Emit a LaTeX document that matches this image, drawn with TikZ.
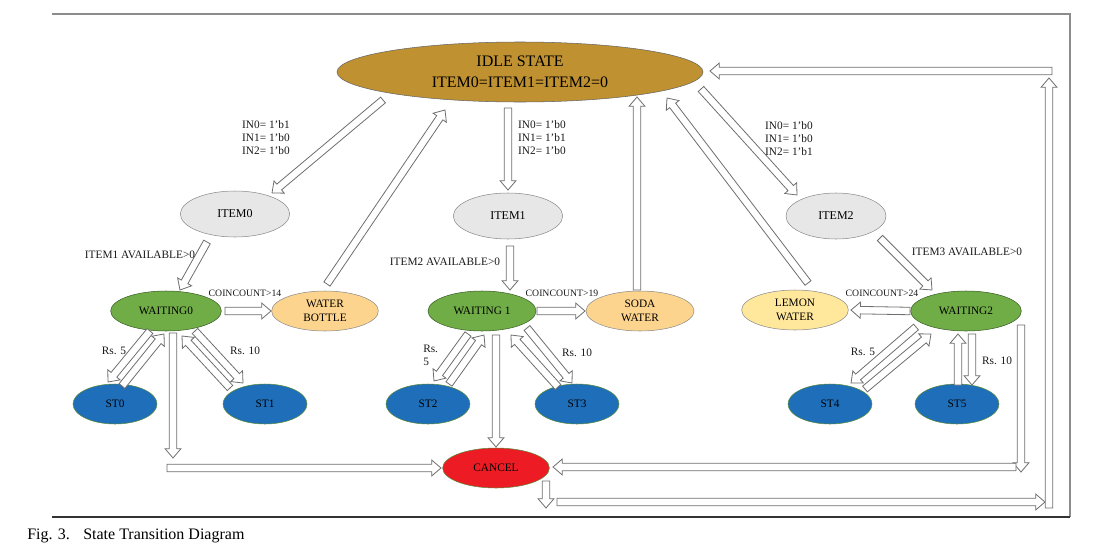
\documentclass[tikz,border=0pt]{standalone}
\usepackage{fontspec}
\setmainfont{Liberation Serif}
\usepackage{tikz}
\usetikzlibrary{shapes.geometric, calc}
\usepackage{xcolor}
\definecolor{idlegold}{HTML}{BF9130}
\definecolor{itemgray}{HTML}{E7E7E7}
\definecolor{waitgreen}{HTML}{70AD47}
\definecolor{waitedge}{HTML}{3A5F27}
\definecolor{drinkorange}{HTML}{FDD48D}
\definecolor{lemonyellow}{HTML}{FFE79B}
\definecolor{coinblue}{HTML}{1E6EB9}
\definecolor{coinedge}{HTML}{5A8A3A}
\definecolor{cancelred}{HTML}{ED1C24}
\definecolor{arrowgray}{HTML}{6E6E6E}

% hollow block arrow between two points
\newcommand{\harrow}[2]{%
  \path (#1) coordinate (ha) (#2) coordinate (hb) ($(hb)!7pt!(ha)$) coordinate (hh);
  \draw[hollow] ($(ha)!2.8pt!90:(hb)$) -- ($(hh)!2.8pt!90:(hb)$) -- ($(hh)!6pt!90:(hb)$) -- (hb)
    -- ($(hh)!6pt!-90:(hb)$) -- ($(hh)!2.8pt!-90:(hb)$) -- ($(ha)!2.8pt!-90:(hb)$) -- cycle;}

\begin{document}
\begin{tikzpicture}[
    x=0.75pt, y=-0.75pt,
    state/.style={draw=black!55, ellipse, inner sep=0pt, minimum height=30pt, align=center,
      text=black, font=\fontsize{8.5}{10.5}\selectfont},
    itemst/.style={state, fill=itemgray, draw=black!45, minimum width=82pt, minimum height=34.5pt,
      font=\fontsize{9}{11}\selectfont},
    waitst/.style={state, fill=waitgreen, draw=waitedge, minimum width=83pt},
    drinkst/.style={state, fill=drinkorange, draw=black!45, minimum width=80pt},
    coinst/.style={state, fill=coinblue, draw=coinedge, minimum width=63pt},
    lbl/.style={inner sep=0pt, align=left, text=black!90, font=\fontsize{8.5}{9.75}\selectfont},
    hollow/.style={draw=arrowgray, fill=white, line width=0.6pt}
]
\useasboundingbox (0,0) rectangle (1096,543);

% frame
\draw[black!45, line width=1.2pt] (52,14) -- (1070,14) -- (1070,517);
\draw[black!80, line width=1pt] (52,517) -- (1070,517);

% states
\node[state, fill=idlegold, draw=black!60, minimum width=274.5pt, minimum height=45pt,
  font=\fontsize{12}{15.5}\selectfont] (idle) at (520,72) {IDLE STATE\\ITEM0=ITEM1=ITEM2=0};
\node[itemst] (item0) at (235,214) {ITEM0};
\node[itemst] (item1) at (508,216) {ITEM1};
\node[itemst, minimum width=75pt] (item2) at (836,216) {ITEM2};
\node[waitst] (wait0) at (166,311) {WAITING0};
\node[waitst, minimum width=81pt] (wait1) at (482,311) {WAITING 1};
\node[waitst] (wait2) at (966,311) {WAITING2};
\node[drinkst] (bottle) at (325,311) {WATER\\BOTTLE};
\node[drinkst, minimum width=81pt] (soda) at (640,311) {SODA\\WATER};
\node[drinkst, fill=lemonyellow] (lemon) at (795,310) {LEMON\\WATER};
\node[coinst] (st0) at (115,404) {ST0};
\node[coinst] (st1) at (265,404) {ST1};
\node[coinst] (st2) at (428,404) {ST2};
\node[coinst] (st3) at (577,404) {ST3};
\node[coinst] (st4) at (830,404) {ST4};
\node[coinst] (st5) at (957,404) {ST5};
\node[state, fill=cancelred, draw=coinedge, minimum width=80pt] (cancel) at (496,468) {CANCEL};

% free ends of the return paths
\coordinate (dropl) at (173,458);
\coordinate (runl) at (167,468);
\coordinate (dropr) at (1021,472);
\coordinate (runr) at (1016,467);
\coordinate (dropc) at (546,508);
\coordinate (runb) at (557,502);
\coordinate (runbe) at (1045,502);
\coordinate (riseb) at (1049,508);
\coordinate (riset) at (1049,78);
\coordinate (runt) at (1052,71);

% idle to items
\harrow{$(idle)+(-137,28)$}{$(item0)+(37,-21)$}
\harrow{$(idle)+(-12,36)$}{$(item1)+(0,-26)$}
\harrow{$(idle)+(181,17)$}{$(item2)+(-39,-21)$}
% items to waiting
\harrow{$(item0)+(-28,28)$}{$(wait0)+(14,-21)$}
\harrow{$(item1)+(2,30)$}{$(wait1)+(28,-21)$}
\harrow{$(item2)+(44,22)$}{$(wait2)+(-34,-21)$}
% waiting to drinks
\harrow{$(wait0)+(59,0)$}{$(bottle)+(-54,0)$}
\harrow{$(wait1)+(55,0)$}{$(soda)+(-55,0)$}
\harrow{$(wait2)+(-56,0)$}{$(lemon)+(56,0)$}
% drinks back to idle
\harrow{$(bottle)+(2,-27)$}{$(idle)+(-75,38)$}
\harrow{$(soda)+(-3,-21)$}{$(idle)+(117,25)$}
\harrow{$(lemon)+(13,-27)$}{$(idle)+(147,26)$}
% coin states
\harrow{$(wait0)+(-16,20)$}{$(st0)+(-7,-22)$}
\harrow{$(st0)+(7,-18)$}{$(wait0)+(-2,23)$}
\harrow{$(wait0)+(29,20)$}{$(st1)+(-22,-21)$}
\harrow{$(st1)+(-35,-16)$}{$(wait0)+(16,25)$}
\harrow{$(wait1)+(-14,23)$}{$(st2)+(6,-23)$}
\harrow{$(st2)+(21,-20)$}{$(wait1)+(2,24)$}
\harrow{$(wait1)+(45,17)$}{$(st3)+(-5,-21)$}
\harrow{$(st3)+(-19,-17)$}{$(wait1)+(29,24)$}
\harrow{$(wait2)+(-50,16)$}{$(st4)+(21,-21)$}
\harrow{$(st4)+(35,-15)$}{$(wait2)+(-35,23)$}
\harrow{$(st5)+(1,-19)$}{$(wait2)+(-8,23)$}
\harrow{$(wait2)+(6,23)$}{$(st5)+(15,-19)$}
% cancel
\harrow{$(wait0)+(7,22)$}{dropl}
\harrow{runl}{$(cancel)+(-55,0)$}
\harrow{$(wait1)+(14,24)$}{$(cancel)+(0,-21)$}
\harrow{$(wait2)+(55,14)$}{dropr}
\harrow{runr}{$(cancel)+(57,-1)$}
% cancel back to idle
\harrow{$(cancel)+(50,13)$}{dropc}
\harrow{runb}{runbe}
\harrow{riseb}{riset}
\harrow{runt}{$(idle)+(190,-1)$}

% labels
\node[lbl] (in0) at (266,138) {IN0= 1'b1\\IN1= 1'b0\\IN2= 1'b0};
\node[lbl] (in1) at (542,138) {IN0= 1'b0\\IN1= 1'b1\\IN2= 1'b0};
\node[lbl] (in2) at (789,139) {IN0= 1'b0\\IN1= 1'b0\\IN2= 1'b1};
\node[lbl] (av1) at (140,255) {ITEM1 AVAILABLE>0};
\node[lbl] (av2) at (445,262) {ITEM2 AVAILABLE>0};
\node[lbl] (av3) at (967,252) {ITEM3 AVAILABLE>0};
\node[lbl, font=\fontsize{7.3}{9}\selectfont] (cc0) at (245,293) {COINCOUNT>14};
\node[lbl, font=\fontsize{7.3}{9}\selectfont] (cc1) at (562,293) {COINCOUNT>19};
\node[lbl, font=\fontsize{7.3}{9}\selectfont] (cc2) at (882,293) {COINCOUNT>24};
\node[lbl] (rs0) at (114,351) {Rs. 5};
\node[lbl] (rs1) at (245,351) {Rs. 10};
\node[lbl, anchor=north west] (rs2) at (423,345) {Rs.\\5};
\node[lbl] (rs3) at (577,353) {Rs. 10};
\node[lbl] (rs4) at (863,352) {Rs. 5};
\node[lbl] (rs5) at (997,361) {Rs. 10};

% caption
\node[anchor=base west, inner sep=0pt, font=\fontsize{12}{14}\selectfont] (caption) at (27,539)
  {Fig. 3.\hspace{6pt} State Transition Diagram};
\end{tikzpicture}
\end{document}
